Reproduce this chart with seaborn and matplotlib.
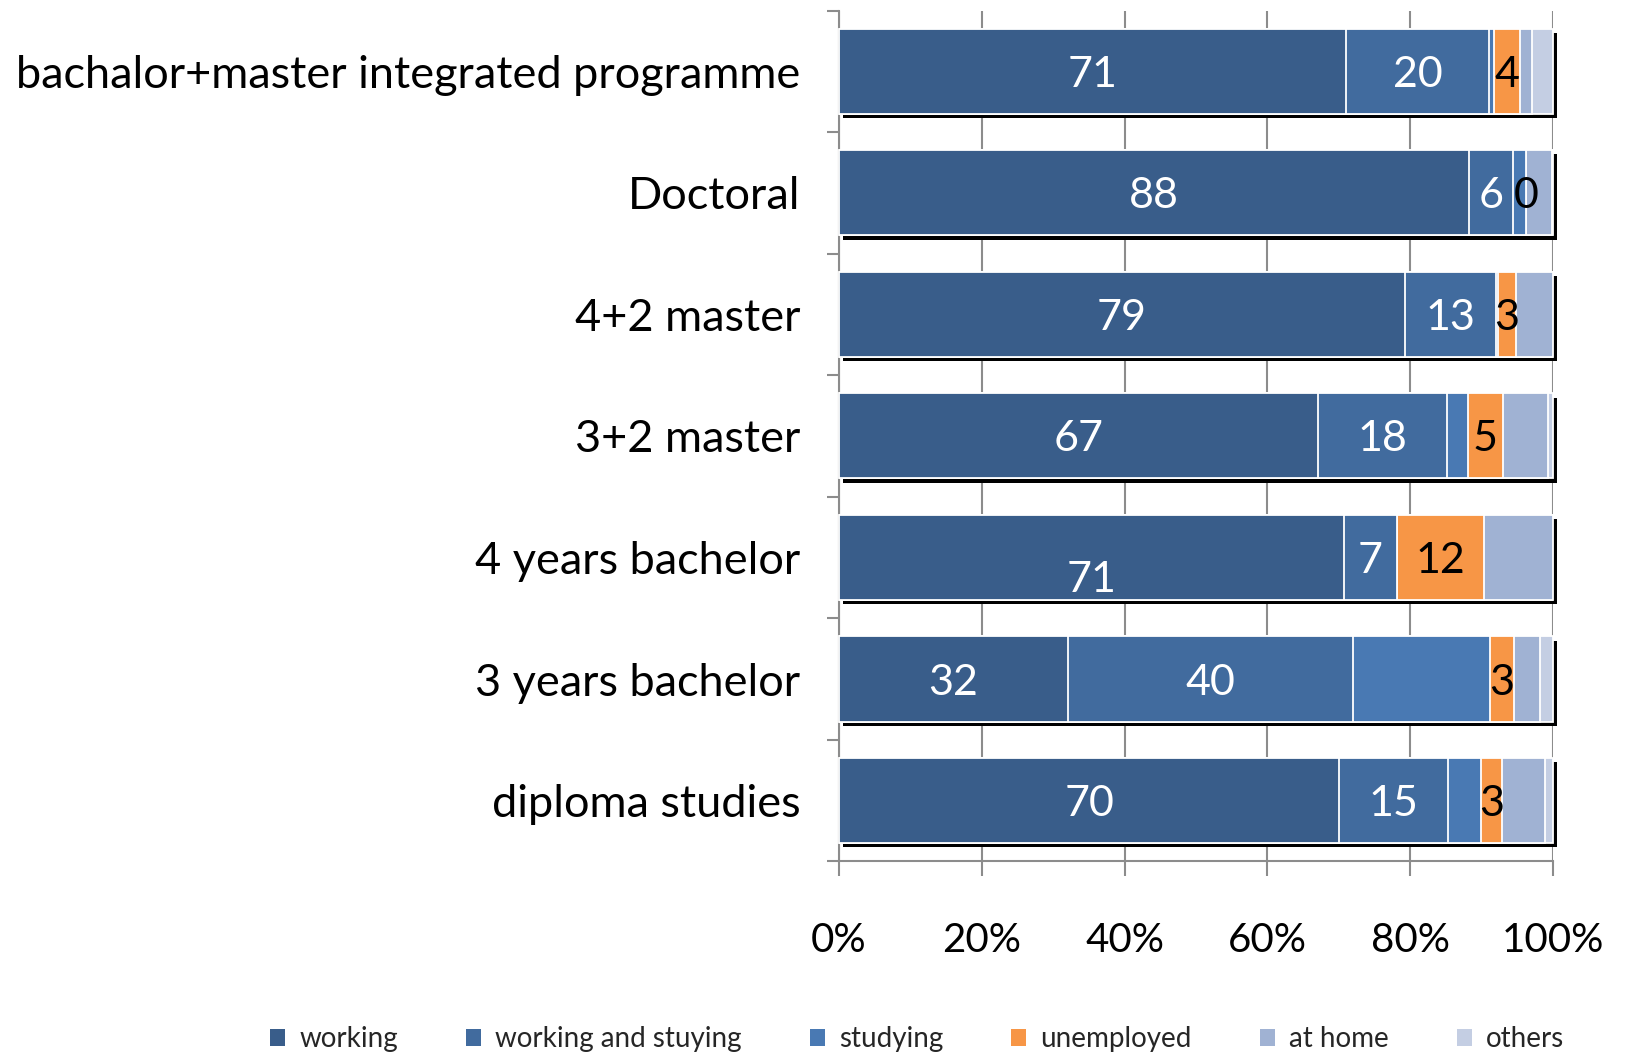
import numpy as np
import pandas as pd
import seaborn as sns
import matplotlib.pyplot as plt
from matplotlib import patheffects as pe
from matplotlib.patches import Patch
from matplotlib.ticker import FixedLocator, PercentFormatter

# Graduate status by type of study programme (% of respondents)
programmes = ["bachalor+master integrated programme", "Doctoral", "4+2 master",
              "3+2 master", "4 years bachelor", "3 years bachelor", "diploma studies"]
statuses = ["working", "working and stuying", "studying", "unemployed", "at home", "others"]
working = [71.0, 88.3, 79.3, 67.1, 70.8, 32.1, 70.1]
working_studying = [20.1, 6.1, 12.7, 18.1, 7.3, 39.9, 15.2]
studying = [0.7, 1.9, 0.3, 2.9, 0.0, 19.2, 4.7]
unemployed = [3.6, 0.0, 2.6, 4.9, 12.2, 3.4, 2.9]
at_home = [1.7, 3.6, 5.1, 6.3, 9.7, 3.6, 6.0]
others = [2.9, 0.1, 0.0, 0.7, 0.0, 1.8, 1.1]

colors = ["#395D8A", "#416B9E", "#4979B3", "#F79646", "#A0B2D3", "#C4CEE3"]
label_colors = {"working": "white", "working and stuying": "white", "unemployed": "black"}

series = [working, working_studying, studying, unemployed, at_home, others]
df = pd.DataFrame({s: v for s, v in zip(statuses, series)}, index=programmes)
cum = df.cumsum(axis=1)

sns.set_theme(style="white")
plt.rcParams["font.family"] = ["Lato", "DejaVu Sans"]

fig = plt.figure(figsize=(16.26, 10.53), dpi=100)
ax = fig.add_axes([0.516, 0.182, 0.439, 0.808])
ax.set_axisbelow(True)

# Overlapping cumulative bars, widest first, give the stacked look
for i in range(len(statuses) - 1, -1, -1):
    s = statuses[i]
    plot_df = pd.DataFrame({"programme": programmes, "value": cum[s].values})
    n_before = len(ax.patches)
    sns.barplot(data=plot_df, x="value", y="programme", orient="h", color=colors[i],
                saturation=1, width=0.7, edgecolor="white", linewidth=1.3, ax=ax,
                zorder=3)
    if i == len(statuses) - 1:
        # the full-length bars carry a hard black drop shadow
        for p in ax.patches[n_before:]:
            p.set_clip_on(False)
            p.set_path_effects([pe.SimplePatchShadow(offset=(2.8, -3.0),
                                                     shadow_rgbFace="black", alpha=1),
                                pe.Normal()])

# Value labels in the middle of each segment
for j, prog in enumerate(programmes):
    for s in ["working", "working and stuying", "unemployed"]:
        v = df.loc[prog, s]
        centre = cum.loc[prog, s] - v / 2
        dy = 0.16 if (prog == "4 years bachelor" and s == "working") else 0.0
        ax.text(centre, j + dy, f"{v:.0f}", ha="center", va="center_baseline",
                color=label_colors[s], fontsize=31, zorder=5)

ax.set_xlim(0, 100)
ax.set_ylim(len(programmes) - 0.5, -0.5)
ax.xaxis.set_major_locator(FixedLocator([0, 20, 40, 60, 80, 100]))
ax.xaxis.set_major_formatter(PercentFormatter(decimals=0))
ax.grid(axis="x", color="#8C8C8C", linewidth=1.5)
ax.set_xlabel("")
ax.set_ylabel("")

ax.yaxis.set_minor_locator(FixedLocator(np.arange(-0.5, len(programmes), 1.0)))
ax.tick_params(axis="y", which="major", length=0, pad=28, labelsize=32.5, labelcolor="black")
ax.tick_params(axis="y", which="minor", left=True, length=9, width=1.5, color="#8C8C8C")
ax.tick_params(axis="x", which="major", bottom=True, length=11, width=1.5, color="#8C8C8C",
               pad=33, labelsize=29, labelcolor="black")

for side in ["top", "right"]:
    ax.spines[side].set_visible(False)
for side in ["left", "bottom"]:
    ax.spines[side].set_color("#8C8C8C")
    ax.spines[side].set_linewidth(1.5)

handles = [Patch(facecolor=c, edgecolor="none") for c in colors]
fig.legend(handles, statuses, loc="center", bbox_to_anchor=(0.564, 0.013), ncol=6,
           frameon=False, handlelength=0.55, handleheight=0.55, handletextpad=0.5,
           columnspacing=2.45, prop={"family": ["Lato", "DejaVu Sans"], "size": 20})

fig.savefig("out.png", dpi=100)
